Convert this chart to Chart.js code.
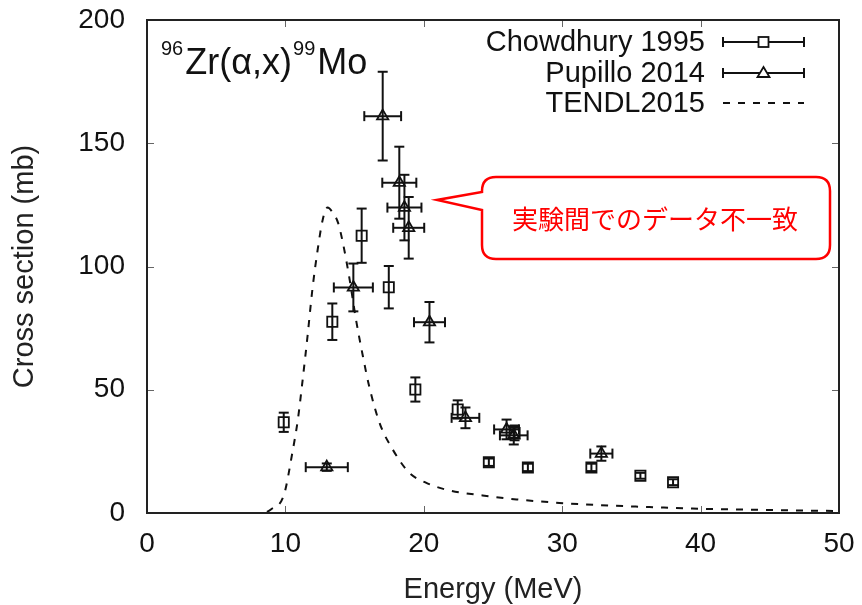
<!DOCTYPE html>
<html>
<head>
<meta charset="utf-8">
<script src="https://cdn.jsdelivr.net/npm/chart.js@4.4.1/dist/chart.umd.min.js"></script>
<style>
  body { margin: 0; background: #fff; }
  #wrap { width: 862px; height: 605px; }
</style>
</head>
<body>
<div id="wrap"><canvas id="xsChart" width="862" height="605"></canvas></div>
<script>
// Chowdhury 1995 (squares, y errors only)
const chowEnergy = [9.88, 13.39, 15.51, 17.47, 19.39, 22.45, 24.70, 26.56, 27.52, 32.11, 35.65, 38.01];
const chowXS     = [36.8, 77.6, 112.5, 91.6, 50.1, 42.0, 20.6, 32.5, 18.5, 18.5, 15.1, 12.5];
const chowErr    = [3.9, 7.4, 11.0, 8.6, 4.9, 3.7, 1.5, 3.0, 1.5, 1.5, 1.2, 1.2];

// Pupillo 2014 (triangles, x and y errors)
const pupEnergy  = [12.99, 14.91, 17.03, 18.23, 18.60, 18.91, 20.41, 23.01, 25.98, 26.50, 32.83];
const pupXS      = [18.6, 91.5, 161.0, 134.0, 123.9, 115.7, 77.4, 38.6, 33.9, 31.5, 24.1];
const pupEnErr   = [1.52, 1.41, 1.33, 1.23, 1.23, 1.12, 1.12, 1.00, 0.90, 1.00, 0.80];
const pupXSErr   = [1.5, 9.7, 18.0, 14.6, 13.3, 12.5, 8.2, 4.2, 4.0, 3.7, 2.9];

// TENDL2015 evaluation
const tendlEnergy = [0, 2, 4, 6, 8, 8.5, 8.95, 9.9, 10.5, 10.9, 11.25, 11.6, 11.95, 12.3, 12.7, 13.05, 13.4, 13.8, 14.15, 14.6, 15.1, 15.6, 16.05, 16.8, 17.75, 18.95, 20.15, 21.6, 24.25, 26.7, 29.8, 32.7, 36.3, 39.4, 44, 50];
const tendlXS     = [0, 0, 0, 0, 0, 0.2, 1.4, 7.5, 24.4, 37.9, 54.2, 71.8, 90.7, 105.6, 119.1, 123.9, 122.0, 117.8, 109.7, 96.1, 78.5, 63.6, 51.5, 36.6, 25.8, 16.3, 12.3, 9.5, 7.1, 5.5, 4.1, 3.2, 2.4, 1.8, 1.3, 0.8];

const xTicks = [0, 10, 20, 30, 40, 50];
const yTicks = [0, 50, 100, 150, 200];

const FONT = '"Liberation Sans", Arial, sans-serif';
const calloutText = '実験間でのデータ不一致';

function seg(ctx, x1, y1, x2, y2) {
  ctx.beginPath();
  ctx.moveTo(x1, y1);
  ctx.lineTo(x2, y2);
  ctx.stroke();
}

// error bars drawn through the chart scales
const errorBars = {
  id: 'errorBars',
  beforeDatasetsDraw(chart) {
    const { ctx, scales: { x, y } } = chart;
    const cap = 5;
    ctx.save();
    ctx.strokeStyle = '#111';
    ctx.lineWidth = 2;
    chart.data.datasets.forEach(ds => {
      if (!ds.errY) return;
      ds.data.forEach((p, i) => {
        const px = x.getPixelForValue(p.x);
        const py = y.getPixelForValue(p.y);
        const ey = ds.errY[i];
        const ex = ds.errX ? ds.errX[i] : 0;
        if (ey) {
          const y1 = y.getPixelForValue(p.y + ey);
          const y2 = y.getPixelForValue(p.y - ey);
          seg(ctx, px, y1, px, y2);
          seg(ctx, px - cap, y1, px + cap, y1);
          seg(ctx, px - cap, y2, px + cap, y2);
        }
        if (ex) {
          const x1 = x.getPixelForValue(p.x - ex);
          const x2 = x.getPixelForValue(p.x + ex);
          seg(ctx, x1, py, x2, py);
          seg(ctx, x1, py - cap, x1, py + cap);
          seg(ctx, x2, py - cap, x2, py + cap);
        }
      });
    });
    ctx.restore();
  }
};

// gnuplot-like frame with inward ticks, legend, reaction label and callout
const decorations = {
  id: 'decorations',
  afterDraw(chart) {
    const { ctx, chartArea: a, scales: { x, y } } = chart;
    ctx.save();

    // inward tick marks
    ctx.strokeStyle = '#666';
    ctx.lineWidth = 1;
    xTicks.forEach(v => {
      const px = Math.round(x.getPixelForValue(v)) + 0.5;
      seg(ctx, px, a.bottom, px, a.bottom - 7);
      seg(ctx, px, a.top, px, a.top + 7);
    });
    yTicks.forEach(v => {
      const py = Math.round(y.getPixelForValue(v)) + 0.5;
      seg(ctx, a.left, py, a.left + 7, py);
      seg(ctx, a.right, py, a.right - 7, py);
    });

    // frame
    ctx.strokeStyle = '#222';
    ctx.lineWidth = 2;
    ctx.strokeRect(a.left, a.top, a.right - a.left, a.bottom - a.top);

    // legend
    const ds = chart.data.datasets;
    const rows = [42, 73, 103];
    const lx1 = 723, lx2 = 804, lmid = (lx1 + lx2) / 2;
    ctx.font = '29px ' + FONT;
    ctx.fillStyle = '#111';
    ctx.textAlign = 'right';
    ctx.textBaseline = 'middle';
    ds.forEach((d, i) => {
      const ly = rows[i];
      ctx.fillText(d.label, 705, ly + 1);
      ctx.strokeStyle = '#111';
      if (d.showLine) {
        ctx.lineWidth = 2;
        ctx.setLineDash(d.borderDash);
        seg(ctx, lx1, ly, lx2, ly);
        ctx.setLineDash([]);
      } else {
        ctx.lineWidth = 2;
        seg(ctx, lx1, ly, lx2, ly);
        seg(ctx, lx1, ly - 5, lx1, ly + 5);
        seg(ctx, lx2, ly - 5, lx2, ly + 5);
        ctx.lineWidth = 1.8;
        ctx.fillStyle = '#fff';
        if (d.pointStyle === 'rect') {
          ctx.fillRect(lmid - 5, ly - 5, 10, 10);
          ctx.strokeRect(lmid - 5, ly - 5, 10, 10);
        } else {
          ctx.beginPath();
          ctx.moveTo(lmid, ly - 6);
          ctx.lineTo(lmid + 6, ly + 4);
          ctx.lineTo(lmid - 6, ly + 4);
          ctx.closePath();
          ctx.fill();
          ctx.stroke();
        }
        ctx.fillStyle = '#111';
      }
    });

    // reaction label 96Zr(α,x)99Mo
    ctx.textAlign = 'left';
    ctx.textBaseline = 'alphabetic';
    const parts = [['96', 20, 55], ['Zr(α,x)', 36, 74], ['99', 20, 55], ['Mo', 36, 74]];
    let tx = 161;
    parts.forEach(([t, size, base]) => {
      ctx.font = size + 'px ' + FONT;
      ctx.fillText(t, tx, base);
      tx += ctx.measureText(t).width + (size < 30 ? 2 : 1);
    });

    // callout box
    const L = 482, R = 830, T = 177, B = 259, r = 14;
    ctx.beginPath();
    ctx.moveTo(L + r, T);
    ctx.lineTo(R - r, T);
    ctx.quadraticCurveTo(R, T, R, T + r);
    ctx.lineTo(R, B - r);
    ctx.quadraticCurveTo(R, B, R - r, B);
    ctx.lineTo(L + r, B);
    ctx.quadraticCurveTo(L, B, L, B - r);
    ctx.lineTo(L, 210);
    ctx.lineTo(437, 200);
    ctx.lineTo(L, 192);
    ctx.lineTo(L, T + r);
    ctx.quadraticCurveTo(L, T, L + r, T);
    ctx.closePath();
    ctx.fillStyle = '#fff';
    ctx.fill();
    ctx.strokeStyle = '#ff0000';
    ctx.lineWidth = 2.5;
    ctx.stroke();
    ctx.fillStyle = '#ff0000';
    ctx.font = '26px "Noto Sans CJK JP", sans-serif';
    ctx.textAlign = 'center';
    ctx.textBaseline = 'middle';
    ctx.fillText(calloutText, 655, 219);

    ctx.restore();
  }
};

const ctx = document.getElementById('xsChart').getContext('2d');

new Chart(ctx, {
  type: 'scatter',
  data: {
    datasets: [
      {
        label: 'Chowdhury 1995',
        data: chowEnergy.map((e, i) => ({ x: e, y: chowXS[i] })),
        errY: chowErr,
        pointStyle: 'rect',
        pointRadius: 7.2,
        borderColor: '#111',
        backgroundColor: 'rgba(0,0,0,0)',
        borderWidth: 1.8,
        showLine: false
      },
      {
        label: 'Pupillo 2014',
        data: pupEnergy.map((e, i) => ({ x: e, y: pupXS[i] })),
        errX: pupEnErr,
        errY: pupXSErr,
        pointStyle: 'triangle',
        pointRadius: 6.5,
        borderColor: '#111',
        backgroundColor: 'rgba(0,0,0,0)',
        borderWidth: 1.8,
        showLine: false
      },
      {
        label: 'TENDL2015',
        data: tendlEnergy.map((e, i) => ({ x: e, y: tendlXS[i] })),
        showLine: true,
        pointRadius: 0,
        borderColor: '#111',
        borderWidth: 2,
        borderDash: [7, 8],
        cubicInterpolationMode: 'monotone'
      }
    ]
  },
  options: {
    responsive: false,
    animation: false,
    layout: { padding: { top: 20, right: 23, left: 0, bottom: 0 } },
    plugins: {
      legend: { display: false },
      tooltip: { enabled: false }
    },
    scales: {
      x: {
        type: 'linear',
        min: 0,
        max: 50,
        afterFit: s => { s.height = 92; s.paddingLeft = 0; s.paddingRight = 0; },
        afterBuildTicks: s => { s.ticks = xTicks.map(v => ({ value: v })); },
        grid: { display: false, drawTicks: false },
        border: { display: false },
        ticks: { padding: 14, color: '#111', font: { family: FONT, size: 28 } },
        title: {
          display: true,
          text: 'Energy (MeV)',
          color: '#222',
          padding: { top: 0, bottom: 1 },
          font: { family: FONT, size: 29, lineHeight: 1 }
        }
      },
      y: {
        type: 'linear',
        min: 0,
        max: 200,
        afterFit: s => { s.width = 147; s.paddingTop = 0; s.paddingBottom = 0; },
        afterBuildTicks: s => { s.ticks = yTicks.map(v => ({ value: v })); },
        grid: { display: false, drawTicks: false },
        border: { display: false },
        ticks: { padding: 22, color: '#111', font: { family: FONT, size: 28 } },
        title: {
          display: true,
          text: 'Cross section (mb)',
          color: '#222',
          padding: { top: 10, bottom: 0 },
          font: { family: FONT, size: 29, lineHeight: 1 }
        }
      }
    }
  },
  plugins: [errorBars, decorations]
});
</script>
</body>
</html>
